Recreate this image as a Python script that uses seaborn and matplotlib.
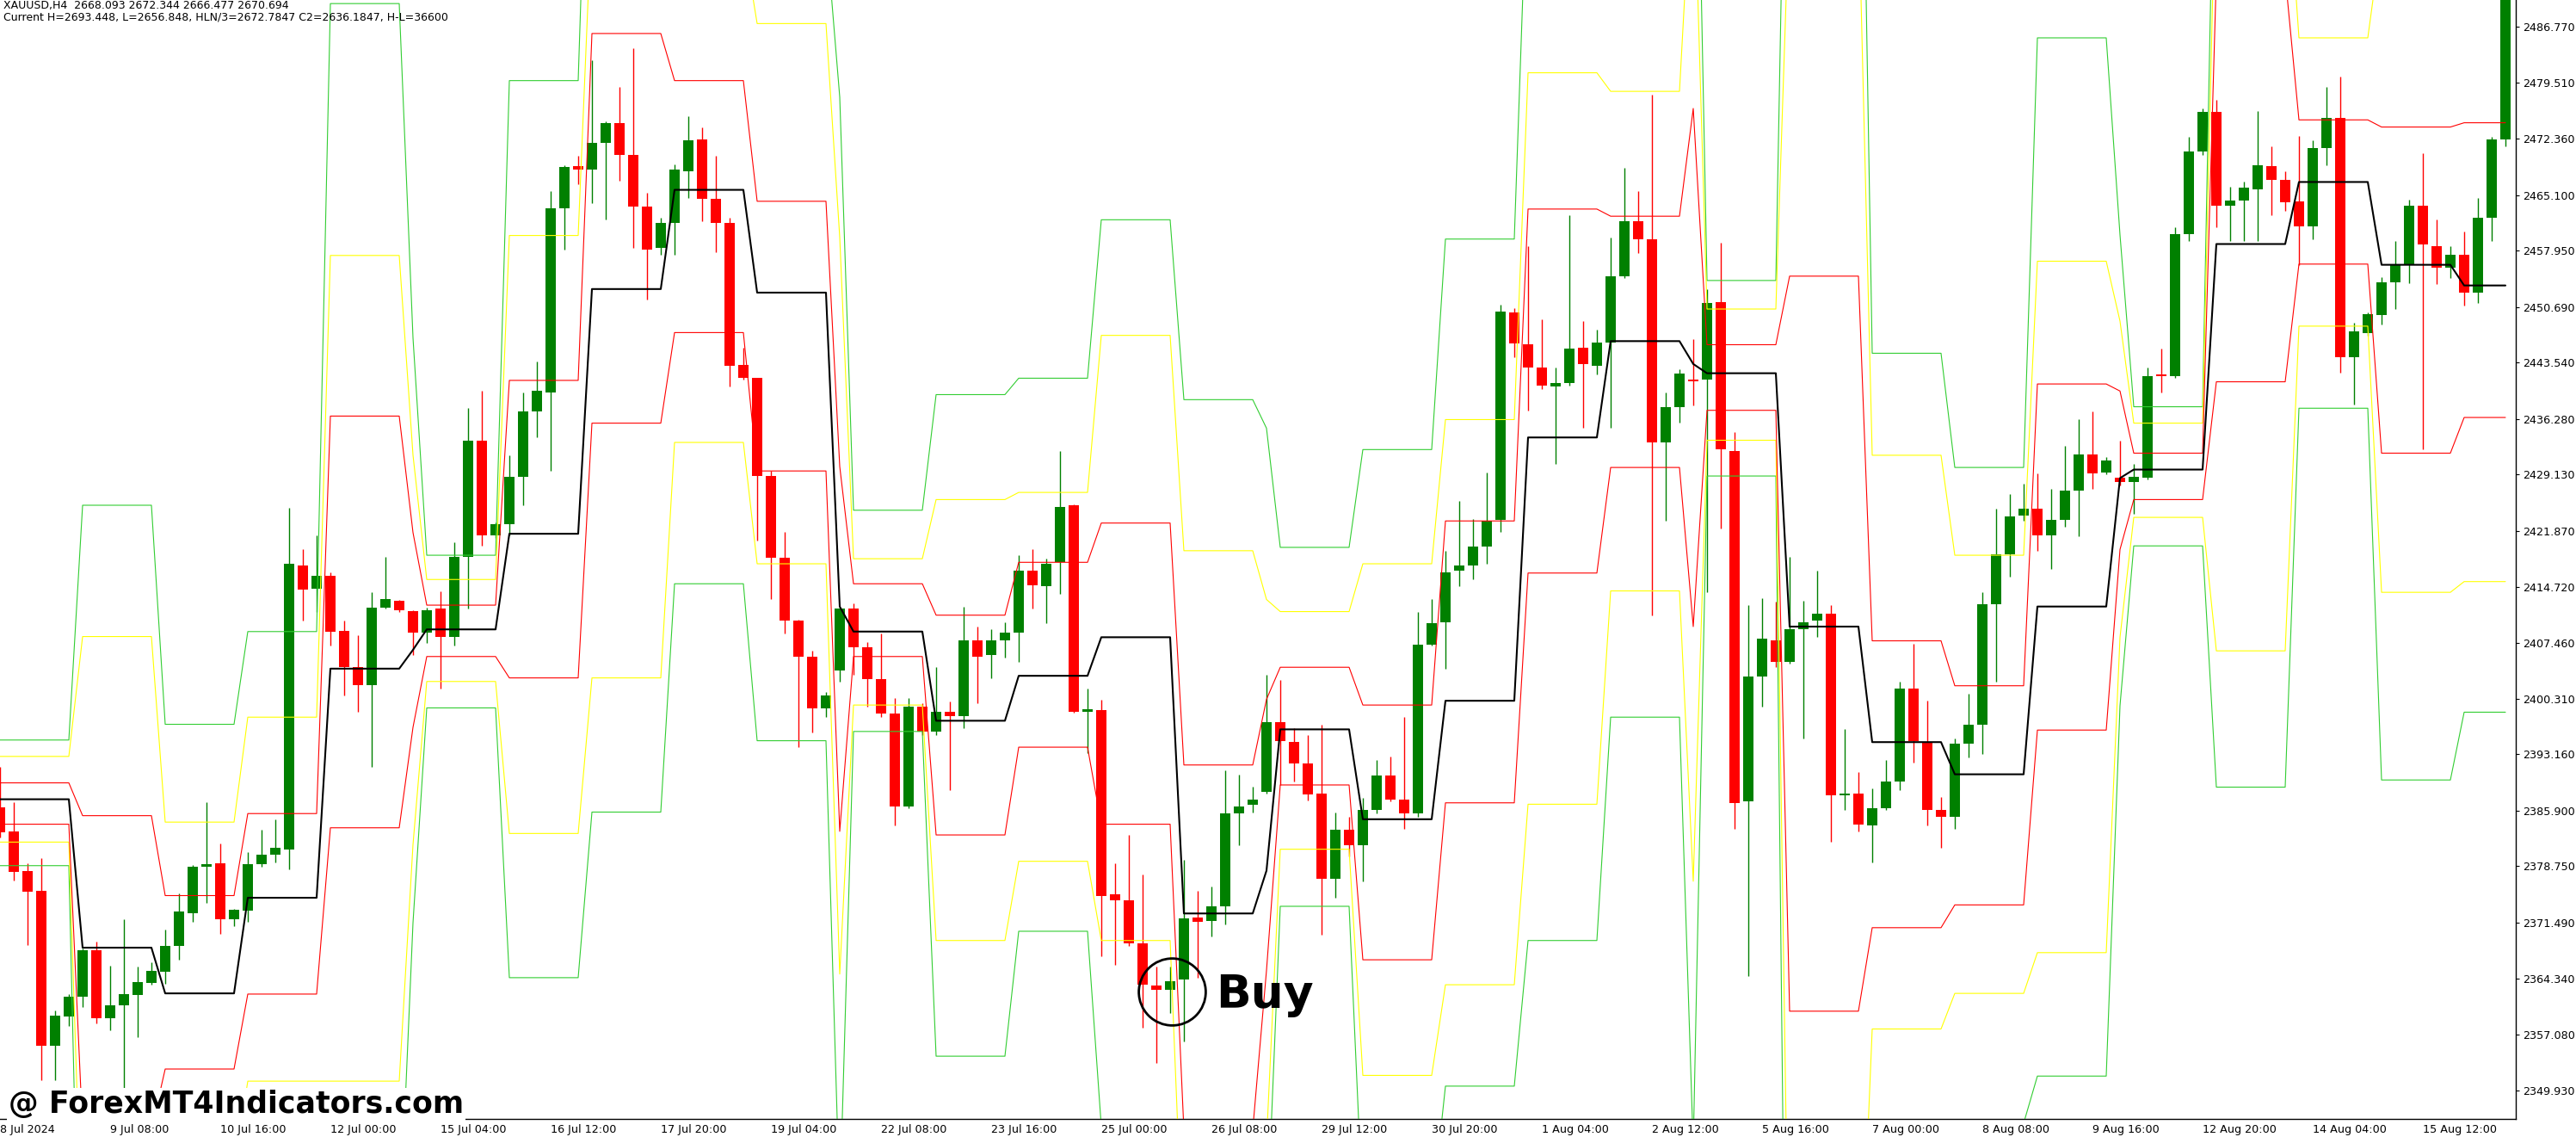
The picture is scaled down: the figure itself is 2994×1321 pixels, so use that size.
import matplotlib
matplotlib.use("Agg")
import matplotlib.pyplot as plt
import numpy as np
import pandas as pd
import seaborn as sns

sns.set_style("white")
plt.rcParams["font.family"] = ["DejaVu Sans"]
plt.rcParams["text.color"] = "black"
plt.rcParams["xtick.color"] = "black"
plt.rcParams["ytick.color"] = "black"

# trading sessions on the H4 chart (the Sunday session only has the 20:00 bar)
session_dates = ["2024-07-08", "2024-07-09", "2024-07-10", "2024-07-11", "2024-07-12", "2024-07-14",
                 "2024-07-15", "2024-07-16", "2024-07-17", "2024-07-18", "2024-07-19", "2024-07-21",
                 "2024-07-22", "2024-07-23", "2024-07-24", "2024-07-25", "2024-07-26", "2024-07-28",
                 "2024-07-29", "2024-07-30", "2024-07-31", "2024-08-01", "2024-08-02", "2024-08-04",
                 "2024-08-05", "2024-08-06", "2024-08-07", "2024-08-08", "2024-08-09", "2024-08-11",
                 "2024-08-12", "2024-08-13", "2024-08-14", "2024-08-15", "2024-08-16"]

# XAUUSD H4 candles, first bar 8 Jul 2024 00:00
open_ = [2386.29, 2383.23, 2378.13, 2375.59, 2355.66, 2359.46, 2362.01, 2367.95, 2359.24, 2360.90,
         2362.19, 2363.78, 2365.18, 2368.46, 2372.75, 2378.65, 2379.17, 2371.97, 2373.08, 2379.06,
         2380.20, 2380.95, 2417.48, 2414.45, 2416.10, 2409.03, 2404.35, 2402.06, 2411.97, 2412.89,
         2411.60, 2408.85, 2411.88, 2408.21, 2418.58, 2433.45, 2421.33, 2422.71, 2428.86, 2437.21,
         2439.69, 2463.38, 2468.79, 2468.42, 2471.82, 2474.39, 2470.26, 2463.56, 2458.24, 2461.54,
         2468.15, 2472.28, 2464.66, 2461.54, 2443.27, 2441.53, 2428.95, 2418.40, 2410.32, 2405.73,
         2399.03, 2403.90, 2411.88, 2406.92, 2402.79, 2398.39, 2386.45, 2399.31, 2396.09, 2398.66,
         2398.02, 2407.84, 2405.91, 2407.84, 2408.76, 2416.74, 2414.73, 2417.85, 2425.19, 2398.66,
         2398.85, 2375.16, 2374.34, 2368.83, 2363.41, 2362.86, 2364.24, 2372.13, 2371.76, 2373.60,
         2385.53, 2386.64, 2388.29, 2397.29, 2394.72, 2391.96, 2388.11, 2377.09, 2383.42, 2381.41,
         2386.00, 2390.40, 2387.37, 2385.53, 2407.29, 2410.14, 2416.74, 2417.39, 2419.87, 2423.35,
         2449.97, 2445.94, 2442.91, 2440.52, 2440.89, 2445.48, 2443.18, 2446.12, 2454.66, 2461.72,
         2459.43, 2433.27, 2437.86, 2441.35, 2441.35, 2451.35, 2432.17, 2387.10, 2403.16, 2407.84,
         2405.09, 2409.22, 2410.32, 2411.24, 2387.83, 2388.11, 2383.97, 2386.18, 2389.67, 2401.60,
         2394.72, 2385.99, 2385.08, 2394.53, 2397.01, 2412.43, 2418.86, 2423.81, 2424.73, 2421.33,
         2423.35, 2427.03, 2431.71, 2429.41, 2428.68, 2428.13, 2428.68, 2441.99, 2441.80, 2460.07,
         2470.72, 2475.77, 2463.74, 2464.39, 2465.85, 2468.79, 2467.05, 2464.30, 2461.08, 2471.09,
         2475.03, 2444.28, 2447.31, 2449.61, 2453.92, 2456.03, 2463.74, 2458.51, 2455.76, 2457.41,
         2452.54, 2462.18, 2472.28]
high = [2391.50, 2387.03, 2379.09, 2379.83, 2360.20, 2362.30, 2368.21, 2369.06, 2365.99, 2371.97,
        2365.88, 2366.36, 2370.61, 2375.22, 2378.90, 2386.95, 2381.68, 2373.26, 2380.57, 2383.45,
        2384.74, 2424.82, 2419.50, 2421.33, 2416.56, 2410.32, 2408.48, 2413.99, 2418.58, 2413.00,
        2411.70, 2411.97, 2414.17, 2420.42, 2437.67, 2439.97, 2423.00, 2431.62, 2439.69, 2443.64,
        2465.58, 2468.88, 2470.17, 2482.38, 2474.57, 2478.98, 2483.94, 2465.40, 2462.18, 2469.07,
        2475.22, 2473.84, 2470.17, 2462.18, 2445.48, 2441.60, 2429.60, 2421.79, 2410.50, 2406.46,
        2401.14, 2411.97, 2412.62, 2407.57, 2408.67, 2400.40, 2400.40, 2399.76, 2404.35, 2399.94,
        2412.15, 2409.58, 2409.22, 2410.14, 2418.76, 2419.50, 2418.30, 2432.17, 2425.28, 2401.60,
        2400.22, 2379.11, 2382.78, 2377.73, 2365.80, 2365.80, 2379.57, 2375.62, 2376.17, 2391.04,
        2390.58, 2389.02, 2403.43, 2402.70, 2396.55, 2395.63, 2397.01, 2385.72, 2385.08, 2387.55,
        2392.42, 2392.88, 2397.93, 2411.42, 2413.07, 2419.32, 2425.74, 2423.45, 2429.41, 2450.98,
        2450.53, 2458.51, 2449.06, 2442.91, 2462.46, 2448.87, 2447.77, 2459.61, 2468.61, 2465.58,
        2477.97, 2439.69, 2442.63, 2446.58, 2453.00, 2458.97, 2434.64, 2412.34, 2413.26, 2412.80,
        2418.58, 2412.89, 2416.74, 2412.34, 2396.36, 2390.86, 2388.75, 2392.42, 2402.52, 2407.38,
        2400.04, 2387.65, 2395.17, 2400.96, 2413.99, 2424.73, 2426.66, 2427.94, 2429.32, 2427.30,
        2432.81, 2436.30, 2437.21, 2431.43, 2433.45, 2430.51, 2442.91, 2445.38, 2460.99, 2472.56,
        2476.23, 2477.33, 2466.13, 2466.77, 2475.95, 2471.36, 2468.15, 2472.74, 2472.10, 2478.98,
        2480.36, 2448.69, 2449.97, 2454.56, 2459.15, 2464.48, 2470.44, 2461.91, 2458.51, 2460.35,
        2464.75, 2472.56, 2494.00]
low = [2382.50, 2376.88, 2368.58, 2351.23, 2351.23, 2358.24, 2360.64, 2358.50, 2357.69, 2349.57,
       2356.77, 2363.52, 2363.59, 2366.73, 2371.64, 2374.07, 2370.05, 2371.09, 2371.64, 2378.72,
       2379.28, 2378.38, 2410.32, 2411.42, 2407.11, 2400.68, 2398.57, 2391.50, 2411.88, 2411.42,
       2405.91, 2407.50, 2401.60, 2407.11, 2411.88, 2419.96, 2421.00, 2421.33, 2425.19, 2433.91,
       2429.60, 2458.05, 2466.50, 2464.02, 2461.91, 2466.96, 2458.24, 2451.63, 2457.41, 2457.41,
       2464.75, 2461.72, 2457.78, 2440.43, 2441.35, 2420.69, 2413.07, 2408.67, 2394.07, 2395.91,
       2397.93, 2402.52, 2403.43, 2399.31, 2397.93, 2383.97, 2386.27, 2395.63, 2395.63, 2388.56,
       2396.55, 2399.76, 2402.98, 2405.55, 2405.00, 2411.88, 2410.05, 2413.81, 2398.48, 2393.34,
       2367.18, 2366.08, 2368.55, 2357.99, 2353.41, 2359.83, 2356.16, 2364.42, 2369.75, 2371.31,
       2381.41, 2385.72, 2388.11, 2389.21, 2389.67, 2387.19, 2369.93, 2374.70, 2380.03, 2376.82,
       2385.53, 2387.10, 2383.51, 2385.08, 2407.11, 2404.17, 2414.73, 2415.64, 2417.66, 2421.79,
       2444.28, 2437.40, 2440.15, 2430.51, 2440.61, 2435.10, 2441.99, 2435.10, 2454.38, 2457.59,
       2411.05, 2423.17, 2435.84, 2438.04, 2413.99, 2422.25, 2383.51, 2364.61, 2399.31, 2404.35,
       2404.81, 2395.17, 2408.30, 2381.87, 2385.99, 2383.24, 2379.29, 2385.99, 2388.56, 2392.14,
       2383.97, 2381.13, 2383.51, 2392.70, 2393.16, 2402.52, 2416.01, 2423.17, 2419.32, 2417.02,
       2422.43, 2421.15, 2427.30, 2429.23, 2427.76, 2424.09, 2428.50, 2439.69, 2441.53, 2459.15,
       2470.26, 2460.99, 2459.15, 2459.15, 2459.15, 2462.46, 2463.10, 2456.03, 2459.43, 2468.88,
       2442.26, 2438.13, 2447.04, 2448.41, 2450.43, 2453.74, 2432.35, 2453.65, 2454.38, 2450.89,
       2451.17, 2459.15, 2471.40]
close = [2383.15, 2378.06, 2375.51, 2355.66, 2359.53, 2361.93, 2367.95, 2359.16, 2360.83, 2362.30,
         2363.85, 2365.25, 2368.50, 2372.93, 2378.69, 2379.02, 2371.97, 2373.15, 2379.02, 2380.28,
         2381.12, 2417.66, 2414.36, 2416.10, 2408.94, 2404.35, 2402.06, 2411.97, 2413.07, 2411.70,
         2408.85, 2411.70, 2408.21, 2418.58, 2433.45, 2421.33, 2422.71, 2428.86, 2437.21, 2439.88,
         2463.38, 2468.70, 2468.42, 2471.82, 2474.39, 2470.26, 2463.56, 2458.05, 2461.54, 2468.33,
         2472.10, 2464.66, 2461.45, 2443.09, 2441.53, 2428.95, 2418.40, 2410.32, 2405.73, 2399.03,
         2400.68, 2411.88, 2406.92, 2402.79, 2398.39, 2386.45, 2399.31, 2396.09, 2398.57, 2398.02,
         2407.84, 2405.73, 2407.84, 2408.76, 2416.74, 2414.91, 2417.66, 2425.01, 2398.57, 2398.94,
         2374.98, 2374.34, 2368.83, 2363.51, 2362.86, 2363.96, 2372.04, 2371.58, 2373.60, 2385.53,
         2386.45, 2387.37, 2397.29, 2394.90, 2391.96, 2388.01, 2377.09, 2383.42, 2381.41, 2386.00,
         2390.40, 2387.37, 2385.53, 2407.29, 2410.05, 2416.56, 2417.48, 2419.87, 2423.17, 2450.07,
         2446.03, 2442.91, 2440.61, 2440.89, 2445.38, 2443.37, 2446.12, 2454.66, 2461.72, 2459.43,
         2433.27, 2437.86, 2442.17, 2441.16, 2451.17, 2432.35, 2386.91, 2403.16, 2408.03, 2405.09,
         2409.22, 2410.14, 2411.24, 2387.83, 2388.11, 2384.16, 2386.18, 2389.67, 2401.60, 2394.90,
         2385.99, 2385.08, 2394.53, 2397.01, 2412.43, 2418.86, 2423.72, 2424.73, 2421.33, 2423.35,
         2427.03, 2431.71, 2429.32, 2430.97, 2428.13, 2428.86, 2441.80, 2441.80, 2460.07, 2470.72,
         2475.77, 2463.74, 2464.39, 2466.04, 2468.88, 2467.05, 2464.20, 2461.08, 2471.09, 2475.03,
         2444.28, 2447.50, 2449.79, 2453.92, 2456.03, 2463.74, 2458.70, 2455.76, 2457.41, 2452.54,
         2462.18, 2472.28, 2492.00]

# daily pivot levels, one value per session
pivot = [2387.37, 2368.28, 2362.40, 2374.70, 2404.17, 2406.59, 2409.22, 2421.52, 2453.00, 2465.76,
         2452.54, 2412.16, 2408.94, 2397.47, 2403.25, 2408.21, 2372.68, 2378.19, 2396.36, 2384.80,
         2400.04, 2433.91, 2446.30, 2443.36, 2442.17, 2409.58, 2394.72, 2390.58, 2412.16, 2428.68,
         2429.78, 2458.79, 2466.77, 2456.12, 2453.46]
r1 = [2389.48, 2385.26, 2374.98, 2385.53, 2436.66, 2421.68, 2412.34, 2441.25, 2485.87, 2479.81,
      2464.29, 2430.17, 2415.09, 2411.05, 2417.85, 2422.90, 2391.78, 2400.22, 2404.35, 2399.49,
      2423.17, 2463.29, 2462.37, 2476.23, 2445.84, 2454.66, 2407.75, 2401.97, 2440.79, 2439.88,
      2431.89, 2493.31, 2474.76, 2473.84, 2474.39]
s1 = [2384.16, 2344.88, 2352.67, 2362.31, 2383.70, 2396.62, 2405.73, 2402.98, 2435.75, 2447.40,
      2429.60, 2383.24, 2405.73, 2382.78, 2394.07, 2384.16, 2344.84, 2365.34, 2389.21, 2366.72,
      2386.91, 2416.47, 2430.05, 2409.58, 2437.40, 2360.11, 2370.85, 2373.78, 2396.27, 2419.50,
      2425.92, 2441.07, 2456.21, 2431.89, 2436.48]
r2 = [2392.88, 2408.30, 2384.43, 2397.93, 2457.32, 2431.65, 2415.64, 2459.89, 2502.15, 2498.01,
      2487.15, 2459.65, 2418.31, 2425.92, 2426.84, 2447.04, 2419.34, 2413.07, 2411.51, 2417.66,
      2436.21, 2480.82, 2478.43, 2510.65, 2450.43, 2503.92, 2431.62, 2418.76, 2456.58, 2448.87,
      2435.75, 2510.84, 2485.31, 2498.32, 2491.49]
s2 = [2381.86, 2327.82, 2339.86, 2351.11, 2351.11, 2381.53, 2402.52, 2382.97, 2402.98, 2433.27,
      2417.66, 2364.88, 2399.49, 2369.20, 2379.39, 2369.20, 2325.72, 2343.31, 2380.94, 2351.85,
      2363.51, 2386.73, 2414.17, 2376.82, 2433.55, 2315.20, 2357.82, 2362.40, 2367.64, 2408.21,
      2423.63, 2406.46, 2448.23, 2413.99, 2415.37]
r3 = [2394.99, 2425.19, 2397.01, 2408.94, 2489.72, 2446.74, 2418.76, 2479.81, 2534.13, 2512.08,
      2499.14, 2477.70, 2424.55, 2439.42, 2441.53, 2461.91, 2438.77, 2435.10, 2419.77, 2432.35,
      2459.43, 2510.10, 2494.16, 2543.33, 2454.10, 2548.87, 2444.74, 2430.05, 2485.31, 2459.97,
      2437.86, 2527.93, 2492.81, 2516.28, 2512.54]
s3 = [2378.83, 2304.41, 2330.15, 2338.81, 2330.38, 2371.46, 2399.12, 2364.42, 2385.72, 2415.09,
      2394.90, 2335.11, 2396.09, 2354.32, 2370.39, 2345.30, 2298.03, 2330.46, 2373.60, 2333.89,
      2350.47, 2369.20, 2397.93, 2342.57, 2428.95, 2265.79, 2334.45, 2345.69, 2351.76, 2399.40,
      2419.96, 2388.93, 2437.67, 2389.85, 2398.57]

price_ticks = [2486.770, 2479.510, 2472.360, 2465.100, 2457.950, 2450.690, 2443.540, 2436.280,
               2429.130, 2421.870, 2414.720, 2407.460, 2400.310, 2393.160, 2385.900, 2378.750,
               2371.490, 2364.340, 2357.080, 2349.930]

header1 = "XAUUSD,H4  2668.093 2672.344 2666.477 2670.694"
header2 = "Current H=2693.448, L=2656.848, HLN/3=2672.7847 C2=2636.1847, H-L=36600"

# bar times and which session each bar belongs to
times, day_idx = [], []
for k, d in enumerate(pd.to_datetime(session_dates)):
    hours = [20] if d.dayofweek == 6 else [0, 4, 8, 12, 16, 20]
    for h in hours:
        times.append(d + pd.Timedelta(hours=h))
        day_idx.append(k)
n = len(open_)
times = times[:n]
day_idx = np.array(day_idx[:n])
bars = np.arange(n)

o = np.array(open_)
c = np.array(close)
up = c >= o
colors = np.where(up, "#008000", "#FF0000")

fig = plt.figure(figsize=(29.94, 13.21), dpi=100)
ax = fig.add_axes([0, 21 / 1321, 2924 / 2994, 1300 / 1321])

# candles
ax.vlines(bars, low, high, colors=colors, linewidth=1.0, zorder=2)
ax.bar(bars, np.maximum(np.abs(c - o), 0.15), bottom=np.minimum(o, c), width=0.69,
       color=colors, linewidth=0, zorder=2)

# pivot levels, stepped per session
levels = pd.DataFrame({"bar": bars})
series = [("R3", r3, "#32CD32", 0.8), ("S3", s3, "#32CD32", 0.8),
          ("R2", r2, "#FFFF00", 0.8), ("S2", s2, "#FFFF00", 0.8),
          ("R1", r1, "#FF0000", 0.8), ("S1", s1, "#FF0000", 0.8),
          ("P", pivot, "black", 1.5)]
for name, vals, col, lw in series:
    levels[name] = np.asarray(vals)[day_idx]
    sns.lineplot(data=levels, x="bar", y=name, color=col, linewidth=lw, ax=ax,
                 errorbar=None, zorder=3)

ax.set_xlim(0, 182.75)
ax.set_ylim(2346.25, 2490.18)
ax.set_xlabel("")
ax.set_ylabel("")

for side in ["left", "top"]:
    ax.spines[side].set_visible(False)
for side in ["right", "bottom"]:
    ax.spines[side].set_color("black")
    ax.spines[side].set_linewidth(1.0)

ax.yaxis.tick_right()
ax.set_yticks(price_ticks)
ax.set_yticklabels([f"{v:.3f}" for v in price_ticks])
ax.tick_params(axis="y", length=3, width=0.8, pad=3, labelsize=9.2, colors="black")

xt = bars[::8]
xl = []
for i in xt:
    t = times[i]
    xl.append(f"{t.day} {t:%b} {t:%Y}" if i == 0 else f"{t.day} {t:%b} {t:%H:%M}")
ax.set_xticks(xt)
ax.set_xticklabels(xl, ha="left")
ax.tick_params(axis="x", length=2.5, width=0.8, pad=2, labelsize=9.2, colors="black")

# signal marker
ax.plot(85.14, 2362.67, marker="o", markersize=56, markerfacecolor="none",
        markeredgecolor="black", markeredgewidth=2.0, zorder=5)
ax.text(88.3, 2360.56, "Buy", fontsize=38.5, fontweight="bold", color="black",
        va="baseline", ha="left", zorder=5)

fig.text(4 / 2994, 1 - 10 / 1321, header1, fontsize=9, color="black", va="baseline")
fig.text(4 / 2994, 1 - 23.5 / 1321, header2, fontsize=9, color="black", va="baseline")
fig.text(10 / 2994, 28 / 1321, "@ ForexMT4Indicators.com", fontsize=25, fontweight="bold",
         color="black", va="baseline",
         bbox=dict(facecolor="white", edgecolor="none", pad=1.5))

fig.savefig("out.png", dpi=100)
